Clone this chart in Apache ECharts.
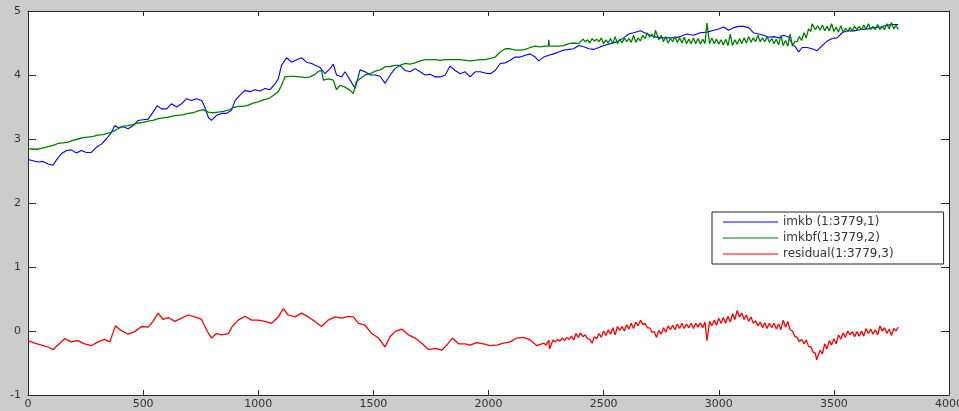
<!DOCTYPE html>
<html>
<head>
<meta charset="utf-8">
<script src="https://cdn.jsdelivr.net/npm/echarts@6/dist/echarts.min.js"></script>
<style>html,body{margin:0;padding:0;background:#cccccc;}#chart{width:959px;height:411px;}</style>
</head>
<body>
<div id="chart"></div>
<script>
// Series names (legend)
const seriesNames = ['imkb (1:3779,1)', 'imkbf(1:3779,2)', 'residual(1:3779,3)'];

// imkb (blue) [index, value]
const imkb = [
[0,2.68],[22,2.66],[44,2.64],[65,2.65],[87,2.61],[109,2.59],[123,2.67],[145,2.77],[167,2.82],[188,2.83],[210,2.78],[232,2.82],[254,2.79],[275,2.79],[297,2.87],[319,2.92],[340,3.0],[362,3.10],[377,3.21],[391,3.18],[413,3.19],[435,3.16],[457,3.21],[478,3.29],[500,3.30],[522,3.31],[543,3.42],[561,3.52],[580,3.47],[602,3.47],[623,3.55],[645,3.50],[667,3.55],[688,3.63],[710,3.60],[732,3.63],[754,3.60],[768,3.50],[783,3.34],[797,3.29],[819,3.37],[841,3.40],[862,3.40],[884,3.45],[899,3.60],[920,3.68],[942,3.76],[964,3.74],[986,3.77],[1007,3.75],[1029,3.79],[1051,3.77],[1073,3.86],[1087,3.94],[1101,4.15],[1123,4.27],[1145,4.20],[1167,4.24],[1188,4.27],[1210,4.20],[1232,4.18],[1254,4.14],
[1268,4.12],[1290,4.02],[1312,4.10],[1326,4.17],[1340,4.0],[1362,3.97],[1377,4.05],[1399,3.92],[1421,3.79],[1442,4.08],[1464,4.05],[1486,4.0],[1508,4.0],[1529,3.98],[1551,3.87],[1573,4.0],[1594,4.10],[1616,4.15],[1638,4.07],[1660,4.05],[1681,4.10],[1703,4.05],[1725,4.0],[1747,4.01],[1768,3.97],[1790,3.97],[1812,4.0],[1833,4.14],[1855,4.07],[1877,4.02],[1899,4.05],[1920,3.97],[1942,4.05],[1964,4.05],[1986,4.03],[2008,4.02],[2029,4.07],[2051,4.18],[2073,4.19],[2094,4.23],[2116,4.28],[2138,4.28],[2160,4.31],[2181,4.33],[2203,4.28],[2218,4.22],[2240,4.28],[2262,4.31],[2283,4.33],[2305,4.36],[2327,4.39],[2349,4.40],[2370,4.41],[2392,4.46],[2414,4.44],[2436,4.41],[2457,4.40],[2479,4.43],[2501,4.46],
[2530,4.49],[2558,4.52],[2587,4.58],[2609,4.64],[2630,4.66],[2660,4.69],[2689,4.64],[2717,4.60],[2747,4.58],[2776,4.58],[2804,4.58],[2833,4.60],[2862,4.64],[2891,4.62],[2920,4.66],[2949,4.67],[2978,4.70],[3000,4.72],[3021,4.75],[3043,4.70],[3065,4.74],[3087,4.76],[3108,4.76],[3130,4.74],[3151,4.66],[3173,4.64],[3195,4.62],[3217,4.59],[3239,4.60],[3260,4.58],[3282,4.62],[3304,4.59],[3319,4.49],[3333,4.44],[3347,4.36],[3362,4.43],[3384,4.43],[3405,4.41],[3427,4.38],[3449,4.46],[3471,4.53],[3493,4.57],[3514,4.58],[3536,4.66],[3558,4.69],[3587,4.69],[3617,4.71],[3645,4.72],[3674,4.74],[3703,4.75],[3732,4.78],[3761,4.79],[3779,4.79]
];

// imkbf (green) [index, value]
const imkbf = [
[0,2.85],[22,2.84],[44,2.84],[65,2.86],[87,2.88],[109,2.90],[130,2.93],[152,2.94],[174,2.95],[196,2.98],[217,3.0],[239,3.02],[261,3.03],[283,3.04],[304,3.06],[326,3.07],[348,3.09],[370,3.12],[391,3.16],[413,3.20],[435,3.21],[457,3.23],[478,3.25],[500,3.26],[522,3.28],[543,3.29],[565,3.32],[587,3.33],[609,3.34],[630,3.36],[652,3.37],[674,3.38],[696,3.40],[717,3.41],[739,3.44],[761,3.46],[783,3.42],[804,3.41],[826,3.42],[848,3.43],[870,3.45],[891,3.49],[913,3.51],[935,3.51],[957,3.53],[978,3.56],[1000,3.58],[1022,3.61],[1044,3.63],[1065,3.68],[1087,3.74],[1101,3.84],[1116,3.97],[1138,3.98],[1159,3.98],[1181,3.97],[1203,3.96],[1225,3.97],[1246,4.01],[1261,4.06],[1275,4.07],[1283,3.92],[1305,3.94],[1326,3.92],[1340,3.77],[1355,3.84],[1377,3.81],[1399,3.76],[1413,3.71],[1425,3.89],[1442,3.94],[1464,4.0],[1486,4.02],[1508,4.06],[1529,4.08],[1551,4.13],[1573,4.13],[1594,4.15],[1616,4.15],[1638,4.18],[1660,4.17],[1681,4.19],[1703,4.22],[1725,4.24],[1747,4.24],[1768,4.24],[1790,4.23],[1812,4.24],[1833,4.24],[1855,4.24],[1877,4.24],[1899,4.23],[1920,4.22],[1942,4.23],[1964,4.24],[1986,4.24],[2008,4.26],[2029,4.28],[2051,4.36],[2073,4.41],[2094,4.41],[2116,4.39],[2138,4.39],[2160,4.40],[2181,4.43],[2203,4.45],[2225,4.44],[2247,4.45],[2260,4.45],[2262,4.55],[2265,4.45],[2283,4.45],[2305,4.45],[2327,4.46],[2349,4.49],[2370,4.50],[2392,4.49],
[2400,4.50],[2410,4.56],[2420,4.52],[2430,4.55],[2440,4.50],[2450,4.57],[2460,4.53],[2470,4.56],[2480,4.52],[2490,4.58],[2500,4.49],[2510,4.55],[2520,4.50],[2530,4.57],[2540,4.49],[2550,4.60],[2560,4.49],[2570,4.56],[2580,4.50],[2590,4.58],[2600,4.52],[2610,4.57],[2620,4.51],[2630,4.62],[2640,4.51],[2650,4.58],[2660,4.53],[2670,4.62],[2680,4.57],[2690,4.66],[2700,4.59],[2710,4.64],[2720,4.58],[2725,4.70],[2740,4.55],[2750,4.62],[2760,4.52],[2770,4.60],[2780,4.50],[2790,4.57],[2800,4.52],[2810,4.60],[2820,4.51],[2830,4.58],[2840,4.50],[2850,4.59],[2860,4.49],[2870,4.56],[2880,4.49],[2890,4.58],[2900,4.49],[2910,4.57],[2920,4.48],[2930,4.56],[2940,4.49],[2949,4.81],[2960,4.49],[2970,4.58],[2980,4.49],[2990,4.56],
[3000,4.48],[3010,4.55],[3020,4.47],[3030,4.56],[3040,4.46],[3050,4.64],[3060,4.46],[3070,4.55],[3080,4.48],[3090,4.57],[3100,4.49],[3110,4.58],[3120,4.50],[3130,4.60],[3140,4.51],[3150,4.58],[3160,4.52],[3170,4.62],[3180,4.52],[3190,4.58],[3200,4.52],[3210,4.60],[3220,4.51],[3230,4.57],[3240,4.49],[3250,4.56],[3260,4.47],[3270,4.62],[3280,4.46],[3290,4.54],[3300,4.45],[3310,4.64],[3320,4.45],[3330,4.52],[3340,4.52],[3350,4.60],[3360,4.54],[3370,4.66],[3380,4.58],[3390,4.72],[3400,4.68],[3405,4.80],[3420,4.71],[3430,4.77],[3440,4.70],[3450,4.78],[3460,4.69],[3470,4.76],[3480,4.69],[3490,4.80],[3500,4.68],[3510,4.75],[3520,4.67],[3530,4.77],[3540,4.67],[3550,4.73],[3560,4.68],[3570,4.74],[3580,4.69],[3590,4.76],[3600,4.71],[3610,4.76],[3620,4.71],[3630,4.78],[3640,4.71],[3650,4.80],[3660,4.71],[3670,4.76],[3680,4.71],[3690,4.79],[3700,4.71],[3710,4.76],[3720,4.71],[3730,4.80],[3740,4.72],[3750,4.82],[3760,4.72],[3770,4.78],[3779,4.71]
];

// residual (red) [index, value]
const residual = [
[0,-0.15],[29,-0.19],[58,-0.22],[87,-0.25],[109,-0.29],[130,-0.22],[159,-0.12],[188,-0.17],[217,-0.15],[246,-0.20],[275,-0.23],[304,-0.17],[333,-0.13],[355,-0.17],[380,0.08],[406,0.005],[435,-0.05],[464,-0.01],[493,0.07],[522,0.06],[543,0.15],[565,0.28],[587,0.18],[609,0.21],[638,0.15],[667,0.20],[696,0.25],[725,0.22],[754,0.18],[775,0.02],[797,-0.11],[819,-0.04],[841,-0.06],[870,-0.04],[887,0.07],[913,0.17],[942,0.23],[971,0.17],[1000,0.17],[1029,0.15],[1058,0.12],[1087,0.22],[1109,0.35],[1130,0.25],[1159,0.22],[1188,0.28],[1217,0.22],[1246,0.15],[1275,0.07],[1304,0.17],[1333,0.22],[1362,0.20],[1391,0.23],[1413,0.22],[1435,0.12],[1464,0.09],[1493,-0.04],[1522,-0.11],[1551,-0.25],[1572,-0.09],[1594,-0.01],[1623,0.03],[1652,-0.06],[1681,-0.11],[1710,-0.19],[1739,-0.29],[1768,-0.27],[1797,-0.30],[1826,-0.19],[1843,-0.11],[1870,-0.20],[1899,-0.20],[1920,-0.22],[1949,-0.18],[1978,-0.20],[2007,-0.23],[2036,-0.22],[2065,-0.19],[2094,-0.17],[2123,-0.11],[2152,-0.10],[2181,-0.14],[2210,-0.23],
[2240,-0.19],[2250,-0.22],[2262,-0.14],[2265,-0.28],[2280,-0.14],[2290,-0.17],[2300,-0.13],[2310,-0.16],[2320,-0.11],[2330,-0.15],[2340,-0.10],[2350,-0.13],[2360,-0.08],[2370,-0.14],[2380,-0.04],[2390,-0.10],[2400,-0.03],[2410,-0.09],[2420,-0.06],[2430,-0.12],[2440,-0.13],[2450,-0.19],[2460,-0.09],[2470,-0.12],[2480,-0.04],[2490,-0.10],[2500,0.00],[2510,-0.07],[2520,0.02],[2530,-0.05],[2540,0.05],[2550,-0.06],[2560,0.07],[2570,0.01],[2580,0.07],[2590,0.00],[2600,0.10],[2610,0.03],[2620,0.12],[2630,0.04],[2640,0.14],[2650,0.08],[2660,0.17],[2670,0.10],[2680,0.12],[2690,0.05],[2700,0.05],[2710,-0.02],[2720,-0.01],[2730,-0.10],[2740,0.01],[2750,-0.05],[2760,0.05],[2770,-0.02],[2780,0.08],[2790,0.02],[2800,0.09],[2810,0.02],[2820,0.11],[2830,0.04],[2840,0.12],[2850,0.04],[2860,0.11],[2870,0.05],[2880,0.12],[2890,0.04],[2900,0.12],[2910,0.06],[2920,0.13],[2930,0.05],[2940,0.14],[2949,-0.15],[2960,0.15],[2970,0.08],[2980,0.17],[2990,0.09],
[3000,0.20],[3010,0.12],[3020,0.21],[3030,0.12],[3040,0.23],[3050,0.14],[3060,0.27],[3070,0.18],[3080,0.32],[3090,0.22],[3100,0.28],[3110,0.18],[3120,0.25],[3130,0.15],[3140,0.22],[3150,0.12],[3160,0.16],[3170,0.08],[3180,0.14],[3190,0.05],[3200,0.13],[3210,0.04],[3220,0.12],[3230,0.05],[3240,0.12],[3250,0.03],[3260,0.11],[3270,0.02],[3280,0.17],[3290,0.06],[3300,0.15],[3310,0.02],[3320,0.00],[3330,-0.08],[3340,-0.10],[3350,-0.17],[3360,-0.13],[3370,-0.20],[3380,-0.14],[3390,-0.24],[3400,-0.25],[3410,-0.33],[3420,-0.35],[3425,-0.45],[3440,-0.30],[3450,-0.36],[3460,-0.20],[3470,-0.28],[3480,-0.15],[3490,-0.22],[3500,-0.12],[3510,-0.20],[3520,-0.06],[3530,-0.13],[3540,-0.03],[3550,-0.10],[3560,0.00],[3570,-0.06],[3580,-0.01],[3590,-0.09],[3600,-0.01],[3610,-0.08],[3620,0.00],[3630,-0.08],[3640,0.04],[3650,-0.04],[3660,0.03],[3670,-0.05],[3680,0.02],[3690,-0.06],[3700,0.08],[3710,0.00],[3720,0.05],[3730,-0.04],[3740,0.03],[3750,-0.07],[3760,0.04],[3770,0.00],[3779,0.06]
];

const seriesColors = ['#0000ff', '#008000', '#ff0000'];

const chart = echarts.init(document.getElementById('chart'), null, {renderer: 'canvas'});
const axisColor = '#2a2a2a';
const labelStyle = {color: '#333', fontFamily: 'DejaVu Sans', fontSize: 11, formatter: function (v) { return String(v); }};
const option = {
  animation: false,
  backgroundColor: '#cccccc',
  grid: {left: 28, right: 10, top: 11, bottom: 16, show: true, backgroundColor: '#ffffff', borderWidth: 0,
         containLabel: false, outerBoundsMode: 'none'},
  xAxis: [
    {type: 'value', min: 0, max: 4000, interval: 500, position: 'bottom',
     axisLine: {show: true, onZero: false, lineStyle: {color: axisColor, width: 1}},
     axisTick: {show: true, inside: true, length: 5, lineStyle: {color: axisColor}},
     axisLabel: Object.assign({margin: 4}, labelStyle),
     splitLine: {show: false}},
    {type: 'value', min: 0, max: 4000, interval: 500, position: 'top',
     axisLine: {show: true, onZero: false, lineStyle: {color: axisColor, width: 1}},
     axisTick: {show: true, inside: true, length: 5, lineStyle: {color: axisColor}},
     axisLabel: {show: false}, splitLine: {show: false}}
  ],
  yAxis: [
    {type: 'value', min: -1, max: 5, interval: 1, position: 'left',
     axisLine: {show: true, onZero: false, lineStyle: {color: axisColor, width: 1}},
     axisTick: {show: true, inside: true, length: 8, lineStyle: {color: axisColor}},
     axisLabel: Object.assign({margin: 7}, labelStyle),
     splitLine: {show: false}},
    {type: 'value', min: -1, max: 5, interval: 1, position: 'right',
     axisLine: {show: true, onZero: false, lineStyle: {color: axisColor, width: 1}},
     axisTick: {show: true, inside: true, length: 8, lineStyle: {color: axisColor}},
     axisLabel: {show: false}, splitLine: {show: false}}
  ],
  legend: {
    orient: 'vertical', left: 712, top: 212,
    padding: [3, 50, 3, 11],
    itemWidth: 55, itemHeight: 1, itemGap: 2, itemTextGap: 8,
    icon: 'rect',
    backgroundColor: '#ffffff', borderColor: '#222', borderWidth: 1,
    textStyle: {color: '#333', fontFamily: 'DejaVu Sans', fontSize: 12, lineHeight: 14},
    data: seriesNames
  },
  series: [
    {name: seriesNames[0], type: 'line', data: imkb, showSymbol: false, symbol: 'none', color: seriesColors[0], lineStyle: {width: 1.1, color: seriesColors[0]}},
    {name: seriesNames[1], type: 'line', data: imkbf, showSymbol: false, symbol: 'none', color: seriesColors[1], lineStyle: {width: 1.3, color: seriesColors[1]}},
    {name: seriesNames[2], type: 'line', data: residual, showSymbol: false, symbol: 'none', color: seriesColors[2], lineStyle: {width: 1.3, color: seriesColors[2]}}
  ]
};
chart.setOption(option);
</script>
</body>
</html>
